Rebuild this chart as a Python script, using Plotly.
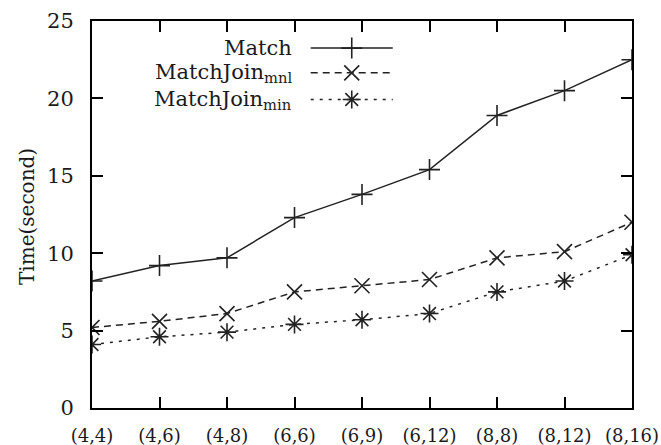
import plotly.graph_objects as go

categories = ["(4,4)", "(4,6)", "(4,8)", "(6,6)", "(6,9)", "(6,12)", "(8,8)", "(8,12)", "(8,16)"]
match = [8.2, 9.2, 9.7, 12.3, 13.8, 15.4, 18.9, 20.5, 22.5]
match_join_mnl = [5.2, 5.6, 6.1, 7.5, 7.9, 8.3, 9.7, 10.1, 12.0]
match_join_min = [4.1, 4.6, 4.9, 5.4, 5.7, 6.1, 7.5, 8.2, 9.9]
y_ticks = [0, 5, 10, 15, 20, 25]

series = [
    ("Match", match, "solid", "cross-thin"),
    ("MatchJoin<sub>mnl</sub>", match_join_mnl, "7px,5px", "x-thin"),
    ("MatchJoin<sub>min</sub>", match_join_min, "3px,6px", "asterisk"),
]

FONT = "DejaVu Serif"
INK = "#1a1a1a"
fig = go.Figure()
x_idx = list(range(len(categories)))
for name, vals, dash, sym in series:
    fig.add_trace(go.Scatter(
        x=x_idx, y=vals, mode="lines+markers", name=name, showlegend=False,
        line=dict(color="#222222", width=1.5, dash=dash),
        marker=dict(symbol=sym, size=15, color="#222222", line=dict(color="#222222", width=1.6)),
    ))

# legend built manually (text to the left of the sample)
leg_y = [0.930, 0.866, 0.797]
for (name, vals, dash, sym), yy in zip(series, leg_y):
    fig.add_annotation(x=0.374, y=yy, xref="paper", yref="paper", text=name,
                       showarrow=False, xanchor="right", yanchor="middle",
                       font=dict(family=FONT, size=21, color=INK))
    fig.add_trace(go.Scatter(
        x=[0.405, 0.481, 0.557], y=[yy, yy, yy], xaxis="x2", yaxis="y2",
        mode="lines", showlegend=False, hoverinfo="skip",
        line=dict(color="#222222", width=1.5, dash=dash)))
    fig.add_trace(go.Scatter(
        x=[0.481], y=[yy], xaxis="x2", yaxis="y2", mode="markers",
        showlegend=False, hoverinfo="skip",
        marker=dict(symbol=sym, size=15, color="#222222", line=dict(color="#222222", width=1.6))))

# y-axis title
fig.add_annotation(x=-0.120, y=0.494, xref="paper", yref="paper", text="Time(second)",
                   textangle=-90, showarrow=False, xanchor="center", yanchor="middle",
                   font=dict(family=FONT, size=20, color=INK))

fig.update_layout(
    width=661, height=445,
    margin=dict(l=92, r=29, t=21, b=37),
    paper_bgcolor="white", plot_bgcolor="white",
    font=dict(family=FONT, color=INK, size=20),
    xaxis=dict(
        tickmode="array", tickvals=x_idx, ticktext=categories,
        range=[0, len(categories) - 1], showgrid=False, zeroline=False,
        showline=True, linecolor="black", linewidth=2, mirror="allticks",
        ticks="inside", ticklen=11, tickwidth=1.5, tickcolor="black",
        ticklabelstandoff=10, automargin=False,
        tickfont=dict(family=FONT, size=18, color=INK),
    ),
    yaxis=dict(
        tickmode="array", tickvals=y_ticks, range=[0, 25],
        showgrid=False, zeroline=False,
        showline=True, linecolor="black", linewidth=2, mirror="allticks",
        ticks="inside", ticklen=11, tickwidth=1.5, tickcolor="black",
        ticklabelstandoff=12, automargin=False,
        tickfont=dict(family=FONT, size=21, color=INK),
    ),
    xaxis2=dict(overlaying="x", range=[0, 1], visible=False, fixedrange=True),
    yaxis2=dict(overlaying="y", range=[0, 1], visible=False, fixedrange=True),
)

fig.write_html(
    "out.html",
    config={"displayModeBar": False},
    post_script="document.body.style.margin='0';document.body.style.overflow='hidden';",
)
